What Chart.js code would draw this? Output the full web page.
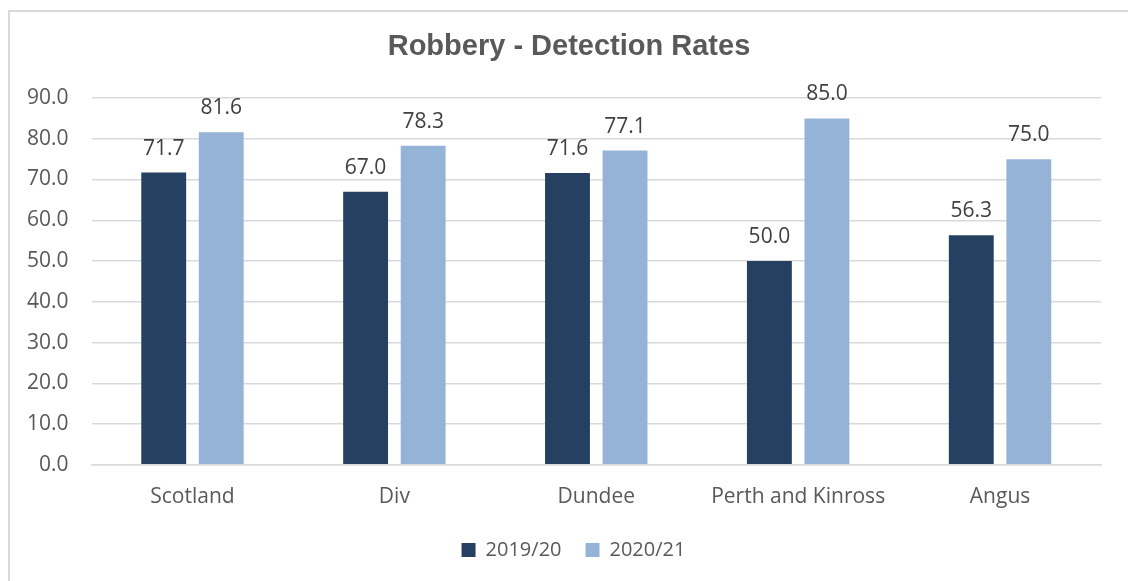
<!DOCTYPE html>
<html>
<head>
<meta charset="utf-8">
<script src="https://cdn.jsdelivr.net/npm/chart.js@4"></script>
<style>
  html, body { margin: 0; padding: 0; background: #fff; overflow: hidden; }
  #frame {
    position: absolute; left: 8px; top: 10px;
    width: 1130px; height: 580px;
    border: 2px solid #d9d9d9; box-sizing: border-box;
  }
  canvas { position: absolute; left: 0; top: 0; }
</style>
</head>
<body>
<div id="frame"></div>
<canvas id="chart" width="1128" height="581"></canvas>
<script>
const categories = ["Scotland", "Div", "Dundee", "Perth and Kinross", "Angus"];
const rates1920 = [71.7, 67.0, 71.6, 50.0, 56.3];
const rates2021 = [81.6, 78.3, 77.1, 85.0, 75.0];
const yTicks = [0, 10, 20, 30, 40, 50, 60, 70, 80, 90];
const chartTitle = "Robbery - Detection Rates";

const textColor = "#595959";
const fontFamily = "'Open Sans', 'Liberation Sans', sans-serif";

// title centred on the frame rather than on the plot box
const frameTitle = {
  id: "frameTitle",
  afterLayout(chart) {
    // legend sits centred on the frame too, not on the layout box
    chart.legend.left += 21;
    chart.legend.right += 21;
  },
  afterDraw(chart) {
    const ctx = chart.ctx;
    ctx.save();
    ctx.font = "bold 29px 'Liberation Sans', Arial, sans-serif";
    ctx.fillStyle = textColor;
    ctx.textAlign = "center";
    ctx.textBaseline = "middle";
    ctx.fillText(chartTitle, 569, 47);
    ctx.restore();
  }
};

// draws the value above each bar
const valueLabels = {
  id: "valueLabels",
  afterDatasetsDraw(chart) {
    const ctx = chart.ctx;
    ctx.save();
    ctx.font = "21px " + fontFamily;
    ctx.fillStyle = "#404040";
    ctx.textAlign = "center";
    ctx.textBaseline = "middle";
    chart.data.datasets.forEach((ds, i) => {
      chart.getDatasetMeta(i).data.forEach((bar, j) => {
        ctx.fillText(ds.data[j].toFixed(1), bar.x, bar.y - 24);
      });
    });
    ctx.restore();
  }
};

new Chart(document.getElementById("chart"), {
  type: "bar",
  data: {
    labels: categories,
    datasets: [
      { label: "2019/20", data: rates1920, backgroundColor: "#254061" },
      { label: "2020/21", data: rates2021, backgroundColor: "#95b3d7" }
    ]
  },
  options: {
    responsive: false,
    devicePixelRatio: 1,
    animation: false,
    categoryPercentage: 0.57,
    barPercentage: 0.78,
    layout: { padding: { left: 4, right: 27, top: 98, bottom: 11 } },
    plugins: {
      title: { display: false },
      legend: {
        position: "bottom",
        labels: {
          color: textColor,
          font: { family: fontFamily, size: 20 },
          boxWidth: 14,
          boxHeight: 14,
          padding: 24
        }
      },
      tooltip: { enabled: false }
    },
    scales: {
      y: {
        min: 0,
        max: 90,
        afterBuildTicks: (axis) => { axis.ticks = yTicks.map(v => ({ value: v })); },
        ticks: {
          color: textColor,
          font: { family: fontFamily, size: 21 },
          padding: 23,
          callback: (v) => Number(v).toFixed(1)
        },
        grid: { color: "#d9d9d9", lineWidth: 1.5, drawTicks: false },
        border: { display: false }
      },
      x: {
        afterFit: (axis) => { axis.height -= 14; },
        ticks: {
          color: textColor,
          font: { family: fontFamily, size: 21 },
          padding: 20
        },
        grid: { display: false, drawTicks: false },
        border: { color: "#d9d9d9", width: 1.5 }
      }
    }
  },
  plugins: [valueLabels, frameTitle]
});
</script>
</body>
</html>
